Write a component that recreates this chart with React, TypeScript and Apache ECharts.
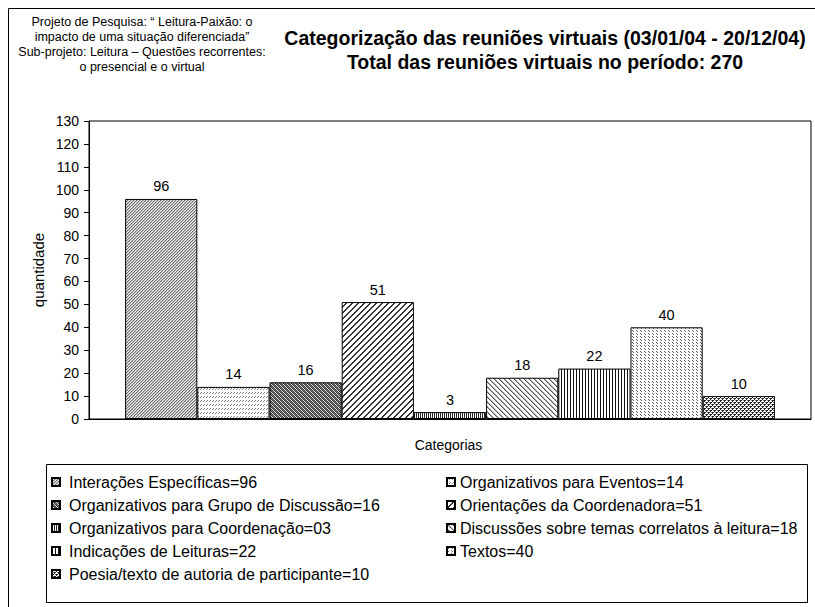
import React, { useEffect, useRef } from "react";
import * as echarts from "echarts";

const categories = [
  "Interações Específicas",
  "Organizativos para Eventos",
  "Organizativos para Grupo de Discussão",
  "Orientações da Coordenadora",
  "Organizativos para Coordenação",
  "Discussões sobre temas correlatos à leitura",
  "Indicações de Leituras",
  "Textos",
  "Poesia/texto de autoria de participante",
];
const values = [96, 14, 16, 51, 3, 18, 22, 40, 10];
const legendValues = ["96", "14", "16", "51", "03", "18", "22", "40", "10"];
const yMin = 0;
const yMax = 130;
const yInterval = 10;
const titleLines = [
  "Categorização das reuniões virtuais (03/01/04 - 20/12/04)",
  "Total das reuniões virtuais no período: 270",
];
const subtitleLines = [
  "Projeto de Pesquisa: “ Leitura-Paixão: o",
  "impacto de uma situação diferenciada”",
  "Sub-projeto: Leitura – Questões recorrentes:",
  "o presencial e o virtual",
];
const xAxisName = "Categorias";
const yAxisName = "quantidade";

const FONT = '"Liberation Sans", Arial, sans-serif';

type PixFn = (x: number, y: number) => string;
const mod = (a: number, n: number) => ((a % n) + n) % n;

const patternDefs: { w: number; h: number; fn: PixFn }[] = [
  // Interações: fine upward diagonal, gray
  { w: 3, h: 3, fn: (x, y) => { const m = mod(x + y, 3); return m === 0 ? "#6e6e6e" : m === 1 ? "#bdbdbd" : "#ececec"; } },
  // Org eventos: rows of short slanted dashes, light
  { w: 6, h: 4, fn: (x, y) => (y % 4 < 2 && mod(x + y, 3) === 0 ? "#858585" : "#ffffff") },
  // Org grupo: dark weave / crosshatch
  { w: 4, h: 4, fn: (x, y) => (mod(x + y, 2) === 0 ? "#3a3a3a" : mod(x - y, 4) === 1 ? "#7a7a7a" : "#e6e6e6") },
  // Orientações: wide upward diagonal stripes
  { w: 6, h: 6, fn: (x, y) => (mod(x + y, 6) < 2 ? "#333333" : "#ffffff") },
  // Org coordenação: dense vertical
  { w: 2, h: 1, fn: (x) => (x % 2 === 0 ? "#2a2a2a" : "#ffffff") },
  // Discussões: downward diagonal gray
  { w: 5, h: 5, fn: (x, y) => { const m = mod(x - y, 5); return m === 0 ? "#555555" : m === 1 ? "#b0b0b0" : "#ffffff"; } },
  // Indicações: vertical lines
  { w: 3, h: 1, fn: (x) => (x % 3 === 0 ? "#111111" : "#ffffff") },
  // Textos: rows of small backslash dashes
  { w: 4, h: 3, fn: (x, y) => (y < 2 && mod(x - y, 4) === 0 ? "#5a5a5a" : "#ffffff") },
  // Poesia: dark confetti
  {
    w: 4,
    h: 4,
    fn: (x, y) => {
      const k = `${x},${y}`;
      const dark = ["0,0", "1,0", "0,1", "2,2", "3,2", "2,3"];
      const mid = ["3,0", "1,2"];
      return dark.includes(k) ? "#1e1e1e" : mid.includes(k) ? "#8a8a8a" : "#ffffff";
    },
  },
];

function makePattern(def: { w: number; h: number; fn: PixFn }) {
  const c = document.createElement("canvas");
  c.width = def.w;
  c.height = def.h;
  const ctx = c.getContext("2d")!;
  for (let y = 0; y < def.h; y++) {
    for (let x = 0; x < def.w; x++) {
      ctx.fillStyle = def.fn(x, y);
      ctx.fillRect(x, y, 1, 1);
    }
  }
  return { image: c, repeat: "repeat", imageWidth: def.w, imageHeight: def.h } as any;
}

export default function App() {
  const ref = useRef<HTMLDivElement>(null);
  useEffect(() => {
    if (!ref.current) return;
    const chart = echarts.init(ref.current, null, { renderer: "svg" });
    const names = categories.map((c, i) => `${c}=${legendValues[i]}`);
    const series = categories.map((c, i) => ({
      type: "bar",
      name: names[i],
      data: [values[i]],
      barWidth: 72.2,
      barGap: "0%",
      itemStyle: { color: makePattern(patternDefs[i]), borderColor: "#000", borderWidth: 1 },
      label: {
        show: true,
        position: "top",
        distance: 5,
        fontSize: 14.5,
        color: "#000",
        fontFamily: FONT,
      },
    }));
    const legendText = { fontSize: 16, color: "#000", fontFamily: FONT, lineHeight: 16 };
    const legendCommon = {
      orient: "vertical",
      top: 474,
      padding: 0,
      itemWidth: 8,
      itemHeight: 8,
      itemGap: 7,
      icon: "rect",
      selectedMode: false,
    };
    const textStyle = (size: number, bold = false) => ({
      fontSize: size,
      fontWeight: bold ? "bold" : "normal",
      fontFamily: FONT,
      fill: "#000",
      textAlign: "center",
      textVerticalAlign: "middle",
    });
    chart.setOption({
      animation: false,
      backgroundColor: "#fff",
      grid: {
        left: 89,
        right: 4,
        top: 121,
        bottom: 188,
        show: true,
        borderColor: "#000",
        borderWidth: 1,
      },
      xAxis: {
        type: "category",
        data: [""],
        axisLine: { lineStyle: { color: "#000", width: 1 } },
        axisTick: { show: false },
        axisLabel: { show: false },
      },
      yAxis: {
        type: "value",
        min: yMin,
        max: yMax,
        interval: yInterval,
        axisLine: { show: true, lineStyle: { color: "#000", width: 1 } },
        axisTick: { show: true, length: 5, lineStyle: { color: "#000" } },
        axisLabel: { fontSize: 14, color: "#000", fontFamily: FONT, margin: 10 },
        splitLine: { show: false },
      },
      legend: [
        {
          ...legendCommon,
          left: 51,
          textStyle: { ...legendText, padding: [0, 0, 0, 4] },
          data: names.filter((_, i) => i % 2 === 0),
        },
        {
          ...legendCommon,
          left: 446,
          textStyle: legendText,
          data: names.filter((_, i) => i % 2 === 1),
        },
      ],
      graphic: [
        {
          type: "rect",
          silent: true,
          shape: { x: 8.5, y: 8.5, width: 1000, height: 1000 },
          style: { fill: "none", stroke: "#000", lineWidth: 1 },
          z: -1,
        },
        {
          type: "rect",
          silent: true,
          shape: { x: 46.5, y: 464.5, width: 761, height: 138 },
          style: { fill: "#fff", stroke: "#000", lineWidth: 1 },
          z: -1,
        },
        ...titleLines.map((t, i) => ({
          type: "text",
          x: 545,
          y: 38 + i * 24,
          style: { text: t, ...textStyle(19.5, true) },
        })),
        ...subtitleLines.map((t, i) => ({
          type: "text",
          x: 142,
          y: 22 + i * 15,
          style: { text: t, ...textStyle(12.5) },
        })),
        {
          type: "text",
          x: 448.5,
          y: 445,
          style: { text: xAxisName, ...textStyle(14) },
        },
        {
          type: "text",
          x: 38,
          y: 270,
          rotation: Math.PI / 2,
          style: { text: yAxisName, ...textStyle(15) },
        },
      ],
      series,
    });
    return () => chart.dispose();
  }, []);
  return (
    <div
      ref={ref}
      style={{ position: "absolute", left: 0, top: 0, width: 815, height: 607 }}
    />
  );
}
